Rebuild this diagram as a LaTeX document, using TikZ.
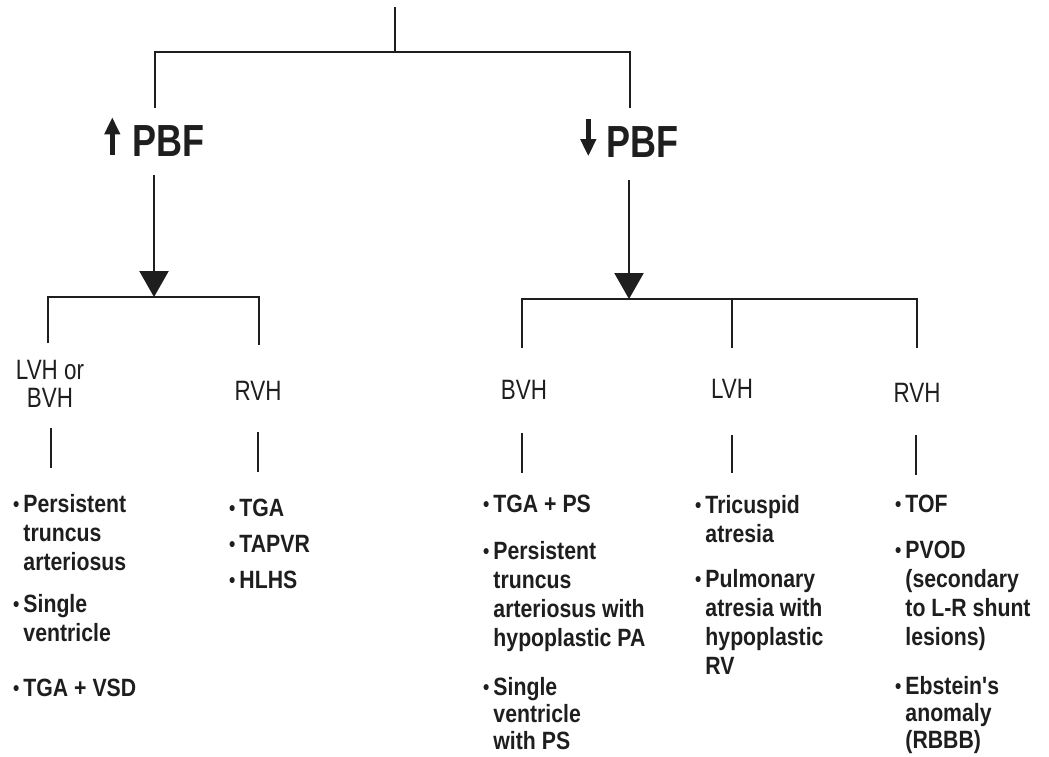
\documentclass[tikz,border=0pt]{standalone}
\usepackage{fontspec}
\newfontfamily\hdrfont[FakeStretch=0.8]{Liberation Sans}
\newfontfamily\itmfont[FakeStretch=0.85]{Liberation Sans}
\usepackage{tikz}
\usetikzlibrary{arrows.meta,positioning}
\definecolor{inkBlack}{RGB}{30,30,30}
\tikzstyle{treeline}=[line width=2.4pt, draw=inkBlack]
\tikzstyle{flowarrow}=[treeline, -{Triangle[width=29pt,length=26pt]}]
\tikzstyle{pbfarrow}=[line width=5pt, draw=inkBlack, -{Triangle[width=15pt,length=17pt]}]
\tikzstyle{pbflabel}=[inner sep=0pt, text=inkBlack, font={\hdrfont\bfseries\fontsize{45}{45}\selectfont}]
\tikzstyle{hdr}=[inner sep=0pt, text=inkBlack, align=center, font={\hdrfont\fontsize{28}{28}\selectfont}]
\tikzstyle{item}=[inner sep=0pt, text=inkBlack, anchor=base west, font={\itmfont\bfseries\fontsize{25}{29}\selectfont}]
\tikzstyle{itemlow}=[item, font={\itmfont\bfseries\fontsize{25}{27}\selectfont}]
\newcommand{\itm}[1]{\raisebox{0.5pt}{\fontsize{21}{21}\selectfont\textbullet}\hspace{4pt}\begin{tabular}[t]{@{}l@{}}#1\end{tabular}}

\begin{document}
\begin{tikzpicture}[x=1pt, y=-1pt]
    \useasboundingbox (0,0) rectangle (1049,756);

    % Tronco
    \coordinate (root) at (395,7);
    \coordinate (rootJ) at (395,52);
    \coordinate (incTop) at (155,108);
    \coordinate (decTop) at (630,108);
    \draw[treeline] (root) -- (rootJ);
    \draw[treeline] (incTop) |- (rootJ) -| (decTop);

    % PBF
    \node[pbflabel] (incPBF) at (168,141) {PBF};
    \node[pbflabel] (decPBF) at (642,142) {PBF};
    \draw[pbfarrow] ([shift={(-19.5,-2)}]incPBF.south west) -- ([shift={(-19.5,-8)}]incPBF.north west);
    \draw[pbfarrow] ([shift={(-17.5,-7)}]decPBF.north west) -- ([shift={(-17.5,-1.5)}]decPBF.south west);

    % Setas
    \coordinate (incFrom) at (154,175);
    \coordinate (incBar) at (154,297);
    \coordinate (decFrom) at (629,180);
    \coordinate (decBar) at (629,299);
    \draw[flowarrow] (incFrom) -- (incBar);
    \draw[flowarrow] (decFrom) -- (decBar);

    % Barras
    \coordinate (lvhTop) at (48,343);
    \coordinate (rvhLTop) at (259,345);
    \coordinate (bvhTop) at (522,348);
    \coordinate (midJ) at (732,299);
    \coordinate (lvhRTop) at (732,348);
    \coordinate (rvhRTop) at (917,348);
    \draw[treeline] (lvhTop) |- (incBar) -| (rvhLTop);
    \draw[treeline] (bvhTop) |- (decBar) -| (rvhRTop);
    \draw[treeline] (midJ) -- (lvhRTop);

    % Hipertrofia
    \node[hdr] (hdrA) at (50,384) {LVH or\\BVH};
    \node[hdr] (hdrB) at (258,391) {RVH};
    \node[hdr] (hdrC) at (524,390) {BVH};
    \node[hdr] (hdrD) at (732,389) {LVH};
    \node[hdr] (hdrE) at (917,393) {RVH};

    \coordinate (tickAa) at (51,428);  \coordinate (tickAb) at (51,468);
    \coordinate (tickBa) at (258,432); \coordinate (tickBb) at (258,472);
    \coordinate (tickCa) at (522,433); \coordinate (tickCb) at (522,473);
    \coordinate (tickDa) at (732,435); \coordinate (tickDb) at (732,473);
    \coordinate (tickEa) at (916,435); \coordinate (tickEb) at (916,475);
    \draw[treeline] (tickAa) -- (tickAb);
    \draw[treeline] (tickBa) -- (tickBb);
    \draw[treeline] (tickCa) -- (tickCb);
    \draw[treeline] (tickDa) -- (tickDb);
    \draw[treeline] (tickEa) -- (tickEb);

    % Lesoes
    \node[item] (itA1) at (13,512) {\itm{Persistent\\truncus\\arteriosus}};
    \node[item] (itA2) at (13,612) {\itm{Single\\ventricle}};
    \node[item] (itA3) at (13,696) {\itm{TGA + VSD}};

    \node[item] (itB1) at (229,516) {\itm{TGA}};
    \node[item] (itB2) at (229,552) {\itm{TAPVR}};
    \node[item] (itB3) at (229,588) {\itm{HLHS}};

    \node[item] (itC1) at (483,512) {\itm{TGA + PS}};
    \node[item] (itC2) at (483,559) {\itm{Persistent\\truncus\\arteriosus with\\hypoplastic PA}};
    \node[itemlow] (itC3) at (483,695) {\itm{Single\\ventricle\\with PS}};

    \node[item] (itD1) at (695,513) {\itm{Tricuspid\\atresia}};
    \node[item] (itD2) at (695,587) {\itm{Pulmonary\\atresia with\\hypoplastic\\RV}};

    \node[item] (itE1) at (895,512) {\itm{TOF}};
    \node[item] (itE2) at (895,558) {\itm{PVOD\\(secondary\\to L-R shunt\\lesions)}};
    \node[itemlow] (itE3) at (895,694) {\itm{Ebstein's\\anomaly\\(RBBB)}};
\end{tikzpicture}
\end{document}
